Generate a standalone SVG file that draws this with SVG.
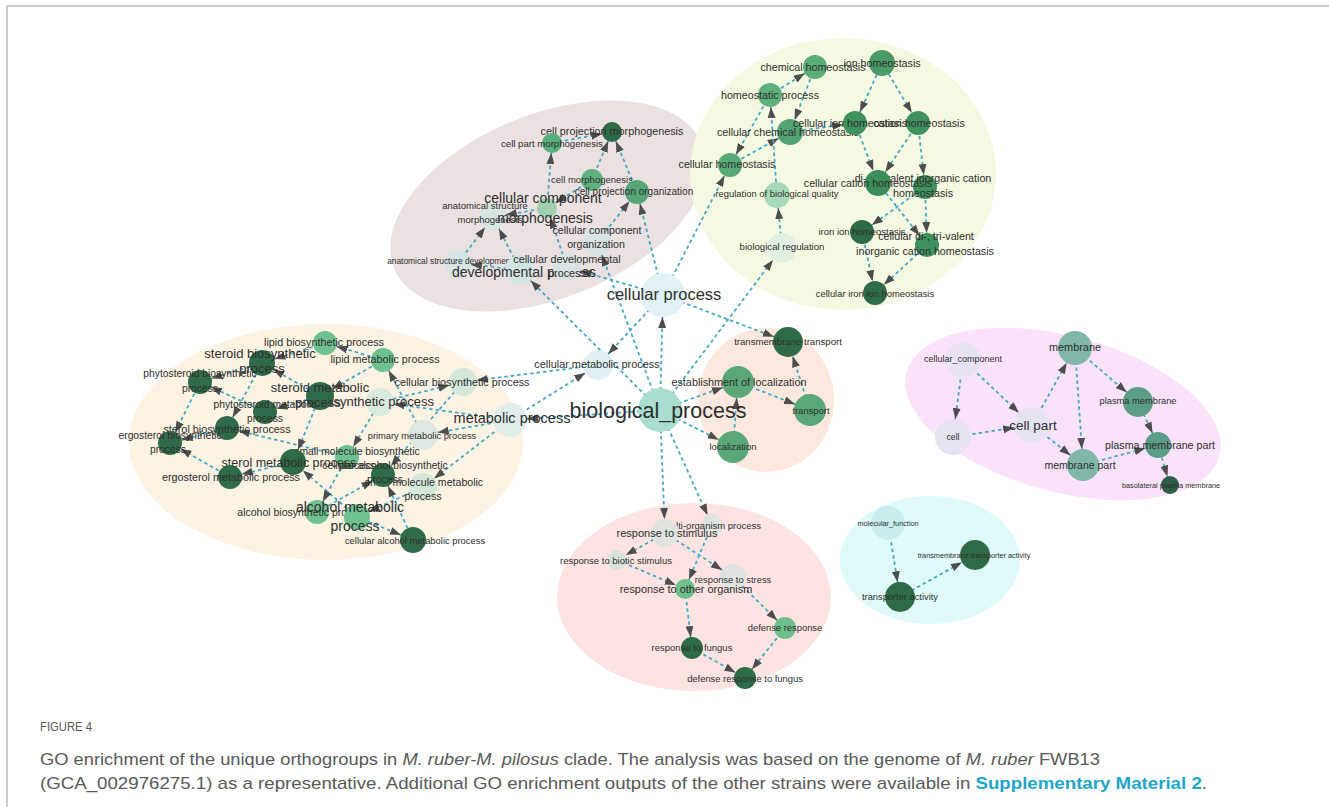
<svg xmlns="http://www.w3.org/2000/svg" width="1329" height="807" viewBox="0 0 1329 807">
<defs>
<style>
.e{stroke:#46a8c8;stroke-width:1.8;stroke-dasharray:3.5 3;fill:none}
.ah{fill:#4d4d4d}
text{font-family:"Liberation Sans",Arial,sans-serif;fill:#2e2e2e;text-anchor:middle}
.cap{font-family:"Liberation Sans Narrow","Liberation Sans",Arial,sans-serif;fill:#595959;text-anchor:start}
</style>
<marker id="a9" markerUnits="userSpaceOnUse" markerWidth="11" markerHeight="8" refX="20" refY="4" orient="auto"><path d="M0,0 L11,4 L0,8 z" class="ah"/></marker>
<marker id="a10" markerUnits="userSpaceOnUse" markerWidth="11" markerHeight="8" refX="21" refY="4" orient="auto"><path d="M0,0 L11,4 L0,8 z" class="ah"/></marker>
<marker id="a11" markerUnits="userSpaceOnUse" markerWidth="11" markerHeight="8" refX="22" refY="4" orient="auto"><path d="M0,0 L11,4 L0,8 z" class="ah"/></marker>
<marker id="a12" markerUnits="userSpaceOnUse" markerWidth="11" markerHeight="8" refX="23" refY="4" orient="auto"><path d="M0,0 L11,4 L0,8 z" class="ah"/></marker>
<marker id="a13" markerUnits="userSpaceOnUse" markerWidth="11" markerHeight="8" refX="24" refY="4" orient="auto"><path d="M0,0 L11,4 L0,8 z" class="ah"/></marker>
<marker id="a14" markerUnits="userSpaceOnUse" markerWidth="11" markerHeight="8" refX="25" refY="4" orient="auto"><path d="M0,0 L11,4 L0,8 z" class="ah"/></marker>
<marker id="a15" markerUnits="userSpaceOnUse" markerWidth="11" markerHeight="8" refX="26" refY="4" orient="auto"><path d="M0,0 L11,4 L0,8 z" class="ah"/></marker>
<marker id="a16" markerUnits="userSpaceOnUse" markerWidth="11" markerHeight="8" refX="27" refY="4" orient="auto"><path d="M0,0 L11,4 L0,8 z" class="ah"/></marker>
<marker id="a17" markerUnits="userSpaceOnUse" markerWidth="11" markerHeight="8" refX="28" refY="4" orient="auto"><path d="M0,0 L11,4 L0,8 z" class="ah"/></marker>
<marker id="a18" markerUnits="userSpaceOnUse" markerWidth="11" markerHeight="8" refX="29" refY="4" orient="auto"><path d="M0,0 L11,4 L0,8 z" class="ah"/></marker>
<marker id="a22" markerUnits="userSpaceOnUse" markerWidth="11" markerHeight="8" refX="33" refY="4" orient="auto"><path d="M0,0 L11,4 L0,8 z" class="ah"/></marker>
</defs>
<rect width="1329" height="807" fill="#ffffff"/>
<path d="M7,807 V6 H1329" stroke="#cccccc" stroke-width="2" fill="none"/>

<g id="clusters">
<ellipse cx="548" cy="206" rx="166" ry="92" transform="rotate(-22 548 206)" fill="#ebe1e1"/>
<ellipse cx="843" cy="174" rx="153" ry="136" fill="#f6f9e1"/>
<ellipse cx="326" cy="442" rx="197" ry="118" fill="#fcf3e3"/>
<ellipse cx="766" cy="400" rx="68" ry="72" fill="#fde8de"/>
<ellipse cx="694" cy="597" rx="137" ry="94" fill="#fde4e2"/>
<ellipse cx="1063" cy="414" rx="162" ry="78" transform="rotate(15 1063 414)" fill="#fae2fa"/>
<ellipse cx="930" cy="560" rx="90" ry="64" fill="#e0fafa"/>
</g>

<g id="connectors">
<line class="e" x1="663" y1="295" x2="637" y2="192" marker-end="url(#a12)"/>
<line class="e" x1="660" y1="410" x2="597" y2="242" marker-end="url(#a14)"/>
<line class="e" x1="663" y1="295" x2="567" y2="267" marker-end="url(#a14)"/>
<line class="e" x1="660" y1="410" x2="520" y2="270" marker-end="url(#a15)"/>
<line class="e" x1="597" y1="242" x2="637" y2="192" marker-end="url(#a12)"/>
<line class="e" x1="567" y1="267" x2="547" y2="208" marker-end="url(#a10)"/>
<line class="e" x1="458" y1="263" x2="493" y2="217" marker-end="url(#a13)"/>
<line class="e" x1="520" y1="270" x2="458" y2="263" marker-end="url(#a13)"/>
<line class="e" x1="520" y1="270" x2="493" y2="217" marker-end="url(#a13)"/>
<line class="e" x1="547" y1="208" x2="552" y2="143" marker-end="url(#a10)"/>
<line class="e" x1="547" y1="208" x2="493" y2="217" marker-end="url(#a13)"/>
<line class="e" x1="552" y1="143" x2="612" y2="132" marker-end="url(#a10)"/>
<line class="e" x1="592" y1="180" x2="612" y2="132" marker-end="url(#a10)"/>
<line class="e" x1="637" y1="192" x2="612" y2="132" marker-end="url(#a10)"/>
<line class="e" x1="592" y1="180" x2="547" y2="208" marker-end="url(#a10)"/>

<line class="e" x1="770" y1="95" x2="815" y2="67" marker-end="url(#a12)"/>
<line class="e" x1="815" y1="67" x2="790" y2="132" marker-end="url(#a13)"/>
<line class="e" x1="770" y1="95" x2="730" y2="165" marker-end="url(#a12)"/>
<line class="e" x1="730" y1="165" x2="790" y2="132" marker-end="url(#a13)"/>
<line class="e" x1="777" y1="195" x2="770" y2="95" marker-end="url(#a12)"/>
<line class="e" x1="663" y1="295" x2="730" y2="165" marker-end="url(#a12)"/>
<line class="e" x1="782" y1="248" x2="777" y2="195" marker-end="url(#a13)"/>
<line class="e" x1="660" y1="410" x2="782" y2="248" marker-end="url(#a15)"/>
<line class="e" x1="882" y1="63" x2="855" y2="123" marker-end="url(#a12)"/>
<line class="e" x1="882" y1="63" x2="918" y2="123" marker-end="url(#a12)"/>
<line class="e" x1="790" y1="132" x2="855" y2="123" marker-end="url(#a12)"/>
<line class="e" x1="855" y1="123" x2="878" y2="183" marker-end="url(#a13)"/>
<line class="e" x1="918" y1="123" x2="878" y2="183" marker-end="url(#a13)"/>
<line class="e" x1="918" y1="123" x2="925" y2="187" marker-end="url(#a12)"/>
<line class="e" x1="878" y1="183" x2="927" y2="245" marker-end="url(#a12)"/>
<line class="e" x1="925" y1="187" x2="927" y2="245" marker-end="url(#a12)"/>
<line class="e" x1="925" y1="187" x2="862" y2="232" marker-end="url(#a12)"/>
<line class="e" x1="862" y1="232" x2="875" y2="293" marker-end="url(#a12)"/>
<line class="e" x1="927" y1="245" x2="875" y2="293" marker-end="url(#a12)"/>

<line class="e" x1="660" y1="410" x2="663" y2="295" marker-end="url(#a22)"/>
<line class="e" x1="663" y1="295" x2="598" y2="365" marker-end="url(#a15)"/>
<line class="e" x1="510" y1="420" x2="598" y2="365" marker-end="url(#a15)"/>
<line class="e" x1="660" y1="410" x2="510" y2="420" marker-end="url(#a17)"/>
<line class="e" x1="660" y1="410" x2="738" y2="382" marker-end="url(#a16)"/>
<line class="e" x1="660" y1="410" x2="733" y2="447" marker-end="url(#a16)"/>
<line class="e" x1="738" y1="382" x2="810" y2="410" marker-end="url(#a16)"/>
<line class="e" x1="663" y1="295" x2="788" y2="342" marker-end="url(#a15)"/>
<line class="e" x1="810" y1="410" x2="788" y2="342" marker-end="url(#a15)"/>
<line class="e" x1="733" y1="447" x2="738" y2="382" marker-end="url(#a16)"/>
<line class="e" x1="660" y1="410" x2="665" y2="533" marker-end="url(#a14)"/>
<line class="e" x1="660" y1="410" x2="712" y2="525" marker-end="url(#a11)"/>

<line class="e" x1="598" y1="365" x2="463" y2="382" marker-end="url(#a14)"/>
<line class="e" x1="380" y1="402" x2="463" y2="382" marker-end="url(#a14)"/>
<line class="e" x1="510" y1="420" x2="380" y2="402" marker-end="url(#a14)"/>
<line class="e" x1="510" y1="420" x2="423" y2="435" marker-end="url(#a15)"/>
<line class="e" x1="510" y1="420" x2="423" y2="487" marker-end="url(#a14)"/>
<line class="e" x1="423" y1="435" x2="383" y2="360" marker-end="url(#a12)"/>
<line class="e" x1="383" y1="360" x2="325" y2="343" marker-end="url(#a12)"/>
<line class="e" x1="383" y1="360" x2="320" y2="396" marker-end="url(#a14)"/>
<line class="e" x1="325" y1="343" x2="262" y2="363" marker-end="url(#a13)"/>
<line class="e" x1="320" y1="396" x2="262" y2="363" marker-end="url(#a13)"/>
<line class="e" x1="262" y1="363" x2="200" y2="382" marker-end="url(#a12)"/>
<line class="e" x1="265" y1="412" x2="200" y2="382" marker-end="url(#a12)"/>
<line class="e" x1="262" y1="363" x2="227" y2="428" marker-end="url(#a12)"/>
<line class="e" x1="200" y1="382" x2="170" y2="443" marker-end="url(#a12)"/>
<line class="e" x1="227" y1="428" x2="170" y2="443" marker-end="url(#a12)"/>
<line class="e" x1="347" y1="457" x2="227" y2="428" marker-end="url(#a12)"/>
<line class="e" x1="230" y1="477" x2="170" y2="443" marker-end="url(#a12)"/>
<line class="e" x1="293" y1="462" x2="230" y2="477" marker-end="url(#a12)"/>
<line class="e" x1="320" y1="396" x2="293" y2="462" marker-end="url(#a13)"/>
<line class="e" x1="357" y1="517" x2="293" y2="462" marker-end="url(#a13)"/>
<line class="e" x1="347" y1="457" x2="317" y2="512" marker-end="url(#a12)"/>
<line class="e" x1="413" y1="540" x2="383" y2="475" marker-end="url(#a12)"/>
<line class="e" x1="380" y1="402" x2="347" y2="457" marker-end="url(#a12)"/>
<line class="e" x1="423" y1="487" x2="357" y2="517" marker-end="url(#a13)"/>
<line class="e" x1="357" y1="517" x2="413" y2="540" marker-end="url(#a13)"/>
<line class="e" x1="463" y1="382" x2="383" y2="475" marker-end="url(#a12)"/>
<line class="e" x1="320" y1="396" x2="265" y2="412" marker-end="url(#a12)"/>
<line class="e" x1="317" y1="512" x2="383" y2="475" marker-end="url(#a12)"/>

<line class="e" x1="665" y1="533" x2="617" y2="560" marker-end="url(#a10)"/>
<line class="e" x1="712" y1="525" x2="685" y2="589" marker-end="url(#a10)"/>
<line class="e" x1="617" y1="560" x2="685" y2="589" marker-end="url(#a10)"/>
<line class="e" x1="665" y1="533" x2="733" y2="577" marker-end="url(#a13)"/>
<line class="e" x1="685" y1="589" x2="692" y2="648" marker-end="url(#a11)"/>
<line class="e" x1="733" y1="577" x2="785" y2="628" marker-end="url(#a11)"/>
<line class="e" x1="692" y1="648" x2="745" y2="678" marker-end="url(#a11)"/>
<line class="e" x1="785" y1="628" x2="745" y2="678" marker-end="url(#a11)"/>

<line class="e" x1="963" y1="360" x2="953" y2="437" marker-end="url(#a18)"/>
<line class="e" x1="963" y1="360" x2="1032" y2="425" marker-end="url(#a18)"/>
<line class="e" x1="953" y1="437" x2="1032" y2="425" marker-end="url(#a18)"/>
<line class="e" x1="1032" y1="425" x2="1075" y2="348" marker-end="url(#a17)"/>
<line class="e" x1="1032" y1="425" x2="1083" y2="465" marker-end="url(#a16)"/>
<line class="e" x1="1075" y1="348" x2="1083" y2="465" marker-end="url(#a16)"/>
<line class="e" x1="1075" y1="348" x2="1138" y2="402" marker-end="url(#a15)"/>
<line class="e" x1="1138" y1="402" x2="1158" y2="445" marker-end="url(#a13)"/>
<line class="e" x1="1083" y1="465" x2="1158" y2="445" marker-end="url(#a13)"/>
<line class="e" x1="1158" y1="445" x2="1170" y2="485" marker-end="url(#a9)"/>

<line class="e" x1="888" y1="523" x2="900" y2="597" marker-end="url(#a15)"/>
<line class="e" x1="900" y1="597" x2="975" y2="555" marker-end="url(#a15)"/>
</g>

<g id="nodes">
<g id="n-cell-projection-morphogenesis"><circle cx="612" cy="132" r="10" fill="#2d6b45"/><text x="612" y="135" font-size="10.8">cell projection morphogenesis</text></g>
<g id="n-cell-part-morphogenesis"><circle cx="552" cy="143" r="10" fill="#5aae7b"/><text x="552" y="147" font-size="9.6">cell part morphogenesis</text></g>
<g id="n-cell-morphogenesis"><circle cx="592" cy="180" r="11" fill="#5fb17f"/><text x="592" y="183" font-size="9.5">cell morphogenesis</text></g>
<g id="n-cell-projection-organization"><circle cx="637" cy="192" r="12" fill="#55a674"/><text x="634" y="195" font-size="10">cell projection organization</text></g>
<g id="n-anatomical-structure-morphogenesis"><circle cx="493" cy="217" r="13" fill="#d6e6e3"/><text x="485" y="209" font-size="9.5">anatomical structure</text><text x="490" y="223" font-size="9.5">morphogenesis</text></g>
<g id="n-cellular-component-morphogenesis"><circle cx="547" cy="208" r="10" fill="#9fd0ae"/><text x="543" y="203" font-size="14">cellular component</text><text x="545" y="223" font-size="14">morphogenesis</text></g>
<g id="n-cellular-component-organization"><circle cx="597" cy="242" r="14" fill="#d9e3e3"/><text x="597" y="234" font-size="10.6">cellular component</text><text x="596" y="248" font-size="10.6">organization</text></g>
<g id="n-anatomical-structure-development"><circle cx="458" cy="263" r="13" fill="#d5e4e5"/><text x="450" y="264" font-size="8.4">anatomical structure development</text></g>
<g id="n-developmental-process"><circle cx="520" cy="270" r="15" fill="#d3e4e5"/><text x="524" y="277" font-size="14">developmental process</text></g>
<g id="n-cellular-developmental-process"><circle cx="567" cy="267" r="14" fill="#d9e3e3"/><text x="567" y="263" font-size="10.8">cellular developmental</text><text x="567" y="277" font-size="10.8">process</text></g>
<g id="n-cellular-process"><circle cx="663" cy="295" r="22" fill="#e0f2f5"/><text x="664" y="300" font-size="16.5">cellular process</text></g>

<g id="n-chemical-homeostasis"><circle cx="815" cy="67" r="12" fill="#5aae78"/><text x="813" y="71" font-size="10.7">chemical homeostasis</text></g>
<g id="n-ion-homeostasis"><circle cx="882" cy="63" r="13" fill="#4a9b68"/><text x="882" y="67" font-size="10.7">ion homeostasis</text></g>
<g id="n-homeostatic-process"><circle cx="770" cy="95" r="12" fill="#5db17c"/><text x="770" y="99" font-size="10.7">homeostatic process</text></g>
<g id="n-cellular-chemical-homeostasis"><circle cx="790" cy="132" r="13" fill="#52a572"/><text x="788" y="136" font-size="10.7">cellular chemical homeostasis</text></g>
<g id="n-cation-homeostasis"><circle cx="918" cy="123" r="12" fill="#3f925d"/><text x="919" y="127" font-size="10.7">cation homeostasis</text></g>
<g id="n-cellular-ion-homeostasis"><circle cx="855" cy="123" r="12" fill="#3f925d"/><text x="850" y="127" font-size="10.7">cellular ion homeostasis</text></g>
<g id="n-cellular-homeostasis"><circle cx="730" cy="165" r="12" fill="#58ab77"/><text x="727" y="168" font-size="10.7">cellular homeostasis</text></g>
<g id="n-regulation-of-biological-quality"><circle cx="777" cy="195" r="13" fill="#a8d9b6"/><text x="777" y="197" font-size="9.4">regulation of biological quality</text></g>
<g id="n-di-tri-valent-inorganic-cation-homeostasis"><circle cx="925" cy="187" r="12" fill="#3f925d"/><text x="923" y="182" font-size="10.7">di-, tri-valent inorganic cation</text><text x="923" y="197" font-size="10.7">homeostasis</text></g>
<g id="n-cellular-cation-homeostasis"><circle cx="878" cy="183" r="13" fill="#3a8c58"/><text x="868" y="187" font-size="10.7">cellular cation homeostasis</text></g>
<g id="n-iron-ion-homeostasis"><circle cx="862" cy="232" r="12" fill="#2e6b47"/><text x="862" y="235" font-size="9.5">iron ion homeostasis</text></g>
<g id="n-cellular-di-tri-valent-inorganic-cation-homeostasis"><circle cx="927" cy="245" r="12" fill="#3f925d"/><text x="926" y="240" font-size="10.7">cellular di-, tri-valent</text><text x="925" y="255" font-size="10.7">inorganic cation homeostasis</text></g>
<g id="n-biological-regulation"><circle cx="782" cy="248" r="15" fill="#e2f0e2"/><text x="782" y="250" font-size="9.6">biological regulation</text></g>
<g id="n-cellular-iron-ion-homeostasis"><circle cx="875" cy="293" r="12" fill="#2e6b47"/><text x="875" y="297" font-size="9.4">cellular iron ion homeostasis</text></g>

<g id="n-lipid-biosynthetic-process"><circle cx="325" cy="343" r="12" fill="#6fc290"/><text x="324" y="346" font-size="10.8">lipid biosynthetic process</text></g>
<g id="n-lipid-metabolic-process"><circle cx="383" cy="360" r="12" fill="#6fc290"/><text x="385" y="363" font-size="10.8">lipid metabolic process</text></g>
<g id="n-steroid-biosynthetic-process"><circle cx="262" cy="363" r="13" fill="#2f6b48"/><text x="260" y="358" font-size="13">steroid biosynthetic</text><text x="262" y="373" font-size="13">process</text></g>
<g id="n-phytosteroid-biosynthetic-process"><circle cx="200" cy="382" r="12" fill="#2f6b48"/><text x="200" y="377" font-size="10.3">phytosteroid biosynthetic</text><text x="200" y="392" font-size="10.3">process</text></g>
<g id="n-cellular-biosynthetic-process"><circle cx="463" cy="382" r="14" fill="#d4e8da"/><text x="462" y="386" font-size="10.8">cellular biosynthetic process</text></g>
<g id="n-biosynthetic-process"><circle cx="380" cy="402" r="14" fill="#d8eadb"/><text x="375" y="406" font-size="13">biosynthetic process</text></g>
<g id="n-steroid-metabolic-process"><circle cx="320" cy="396" r="14" fill="#2f6b48"/><text x="320" y="392" font-size="13">steroid metabolic</text><text x="318" y="407" font-size="13">process</text></g>
<g id="n-phytosteroid-metabolic-process"><circle cx="265" cy="412" r="12" fill="#2f6b48"/><text x="265" y="408" font-size="10.3">phytosteroid metabolic</text><text x="265" y="422" font-size="10.3">process</text></g>
<g id="n-metabolic-process"><circle cx="510" cy="420" r="17" fill="#dfeeea"/><text x="512" y="423" font-size="14.5">metabolic process</text></g>
<g id="n-primary-metabolic-process"><circle cx="423" cy="435" r="15" fill="#dee7df"/><text x="422" y="439" font-size="9.3">primary metabolic process</text></g>
<g id="n-sterol-biosynthetic-process"><circle cx="227" cy="428" r="12" fill="#2f6b48"/><text x="227" y="433" font-size="10.8">sterol biosynthetic process</text></g>
<g id="n-ergosterol-biosynthetic-process"><circle cx="170" cy="443" r="12" fill="#2f6b48"/><text x="170" y="439" font-size="10.3">ergosterol biosynthetic</text><text x="168" y="453" font-size="10.3">process</text></g>
<g id="n-small-molecule-biosynthetic-process"><circle cx="347" cy="457" r="12" fill="#6fc290"/><text x="357" y="455" font-size="10.3">small molecule biosynthetic</text><text x="357" y="469" font-size="10.3">process</text></g>
<g id="n-sterol-metabolic-process"><circle cx="293" cy="462" r="13" fill="#2f6b48"/><text x="289" y="467" font-size="12.5">sterol metabolic process</text></g>
<g id="n-small-molecule-metabolic-process"><circle cx="423" cy="487" r="14" fill="#d4e8da"/><text x="424" y="486" font-size="10.6">small molecule metabolic</text><text x="423" y="500" font-size="10.6">process</text></g>
<g id="n-cellular-alcohol-biosynthetic-process"><circle cx="383" cy="475" r="12" fill="#2f6b48"/><text x="385" y="469" font-size="10.3">cellular alcohol biosynthetic</text><text x="385" y="483" font-size="10.3">process</text></g>
<g id="n-ergosterol-metabolic-process"><circle cx="230" cy="477" r="12" fill="#2f6b48"/><text x="231" y="481" font-size="10.8">ergosterol metabolic process</text></g>
<g id="n-alcohol-biosynthetic-process"><circle cx="317" cy="512" r="12" fill="#6fc290"/><text x="303" y="516" font-size="10.5">alcohol biosynthetic process</text></g>
<g id="n-alcohol-metabolic-process"><circle cx="357" cy="517" r="13" fill="#6fc290"/><text x="350" y="512" font-size="14">alcohol metabolic</text><text x="355" y="531" font-size="14">process</text></g>
<g id="n-cellular-alcohol-metabolic-process"><circle cx="413" cy="540" r="13" fill="#2f6b48"/><text x="415" y="544" font-size="9.4">cellular alcohol metabolic process</text></g>

<g id="n-cellular-metabolic-process"><circle cx="598" cy="365" r="15" fill="#dff0f3"/><text x="597" y="368" font-size="10.9">cellular metabolic process</text></g>
<g id="n-biological-process"><circle cx="660" cy="410" r="22" fill="#a9ddd0"/><text x="658" y="418" font-size="21.5">biological_process</text></g>
<g id="n-transmembrane-transport"><circle cx="788" cy="342" r="15" fill="#2e6b47"/><text x="788" y="345" font-size="9.6">transmembrane transport</text></g>
<g id="n-establishment-of-localization"><circle cx="738" cy="382" r="16" fill="#5aa878"/><text x="739" y="386" font-size="10.8">establishment of localization</text></g>
<g id="n-transport"><circle cx="810" cy="410" r="16" fill="#5aa878"/><text x="811" y="414" font-size="9.4">transport</text></g>
<g id="n-localization"><circle cx="733" cy="447" r="16" fill="#5aa878"/><text x="733" y="450" font-size="9.5">localization</text></g>

<g id="n-multi-organism-process"><circle cx="712" cy="525" r="11" fill="#dfe4df"/><text x="712" y="529" font-size="9.5">multi-organism process</text></g>
<g id="n-response-to-stimulus"><circle cx="665" cy="533" r="14" fill="#dfe4df"/><text x="667" y="537" font-size="11">response to stimulus</text></g>
<g id="n-response-to-biotic-stimulus"><circle cx="617" cy="560" r="10" fill="#d9e3dc"/><text x="616" y="564" font-size="9.5">response to biotic stimulus</text></g>
<g id="n-response-to-stress"><circle cx="733" cy="577" r="13" fill="#dfe4df"/><text x="733" y="583" font-size="9.4">response to stress</text></g>
<g id="n-response-to-other-organism"><circle cx="685" cy="589" r="10" fill="#6fbf8d"/><text x="686" y="593" font-size="10.9">response to other organism</text></g>
<g id="n-defense-response"><circle cx="785" cy="628" r="11" fill="#6fbf8d"/><text x="785" y="631" font-size="9.4">defense response</text></g>
<g id="n-response-to-fungus"><circle cx="692" cy="648" r="11" fill="#2e6b47"/><text x="692" y="651" font-size="9.5">response to fungus</text></g>
<g id="n-defense-response-to-fungus"><circle cx="745" cy="678" r="11" fill="#2e6b47"/><text x="745" y="682" font-size="9.4">defense response to fungus</text></g>

<g id="n-cellular-component"><circle cx="963" cy="360" r="18" fill="#e8e3f3"/><text x="963" y="362" font-size="9">cellular_component</text></g>
<g id="n-membrane"><circle cx="1075" cy="348" r="17" fill="#80b7a9"/><text x="1075" y="351" font-size="10.9">membrane</text></g>
<g id="n-cell"><circle cx="953" cy="437" r="18" fill="#e8e3f3"/><text x="953" y="440" font-size="8.7">cell</text></g>
<g id="n-cell-part"><circle cx="1032" cy="425" r="18" fill="#e8e3f3"/><text x="1033" y="430" font-size="13.5">cell part</text></g>
<g id="n-plasma-membrane"><circle cx="1138" cy="402" r="15" fill="#5c9d88"/><text x="1138" y="404" font-size="9.3">plasma membrane</text></g>
<g id="n-membrane-part"><circle cx="1083" cy="465" r="16" fill="#80b7a9"/><text x="1080" y="469" font-size="10.5">membrane part</text></g>
<g id="n-plasma-membrane-part"><circle cx="1158" cy="445" r="13" fill="#5c9d88"/><text x="1160" y="449" font-size="10.7">plasma membrane part</text></g>
<g id="n-basolateral-plasma-membrane"><circle cx="1170" cy="485" r="9" fill="#2d5e45"/><text x="1171" y="488" font-size="7.3">basolateral plasma membrane</text></g>

<g id="n-molecular-function"><circle cx="888" cy="523" r="17" fill="#c8edef"/><text x="888" y="526" font-size="7.3">molecular_function</text></g>
<g id="n-transmembrane-transporter-activity"><circle cx="975" cy="555" r="15" fill="#2e6b47"/><text x="974" y="558" font-size="7.3">transmembrane transporter activity</text></g>
<g id="n-transporter-activity"><circle cx="900" cy="597" r="15" fill="#2e6b47"/><text x="900" y="600" font-size="9.3">transporter activity</text></g>
</g>

<g id="caption">
<text class="cap" x="40" y="731" font-size="12" textLength="52" lengthAdjust="spacingAndGlyphs">FIGURE 4</text>
<text class="cap" x="40" y="765" font-size="17" textLength="1060" lengthAdjust="spacingAndGlyphs">GO enrichment of the unique orthogroups in <tspan font-style="italic">M. ruber-M. pilosus</tspan> clade. The analysis was based on the genome of <tspan font-style="italic">M. ruber</tspan> FWB13</text>
<text class="cap" x="40" y="789" font-size="17" textLength="1167" lengthAdjust="spacingAndGlyphs">(GCA_002976275.1) as a representative. Additional GO enrichment outputs of the other strains were available in <tspan font-weight="bold" fill="#1ea5c9">Supplementary Material 2</tspan>.</text>
</g>
</svg>
